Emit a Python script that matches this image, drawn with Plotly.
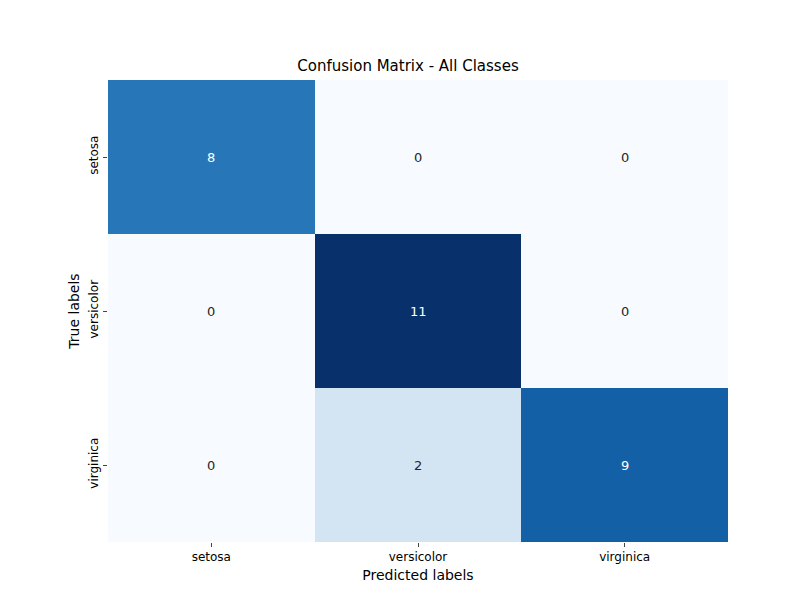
import plotly.graph_objects as go

labels = ["setosa", "versicolor", "virginica"]
matrix = [[8, 0, 0],
          [0, 11, 0],
          [0, 2, 9]]

blues = ["#f7fbff", "#deebf7", "#c6dbef", "#9ecae1", "#6baed6",
         "#4292c6", "#2171b5", "#08519c", "#08306b"]
scale = [[i / 8, c] for i, c in enumerate(blues)]

fig = go.Figure(go.Heatmap(z=matrix, x=labels, y=labels, colorscale=scale,
                           zmin=0, zmax=11, showscale=False, xgap=0, ygap=0))

vmax = 11
for i, row in enumerate(matrix):
    for j, v in enumerate(row):
        fig.add_annotation(x=labels[j], y=labels[i], text=str(v), showarrow=False,
                           font=dict(size=13, color="white" if v > vmax / 2 else "#262626"))

fig.update_layout(
    width=800, height=600, plot_bgcolor="white", paper_bgcolor="white",
    margin=dict(l=100, r=80, t=72, b=66),
    font=dict(family="DejaVu Sans", size=12, color="black"),
    title=dict(text="Confusion Matrix - All Classes", x=0.5, xanchor="center",
               y=1 - 58 / 600, yanchor="middle", font=dict(size=15)),
)
fig.update_xaxes(title=dict(text="Predicted labels", standoff=6), ticks="outside",
                 ticklen=4, showgrid=False, zeroline=False)
fig.update_yaxes(title=dict(text="True labels", standoff=4), autorange="reversed",
                 ticks="outside", ticklen=4, tickangle=-90, showgrid=False, zeroline=False)

fig.write_html("out.html")
